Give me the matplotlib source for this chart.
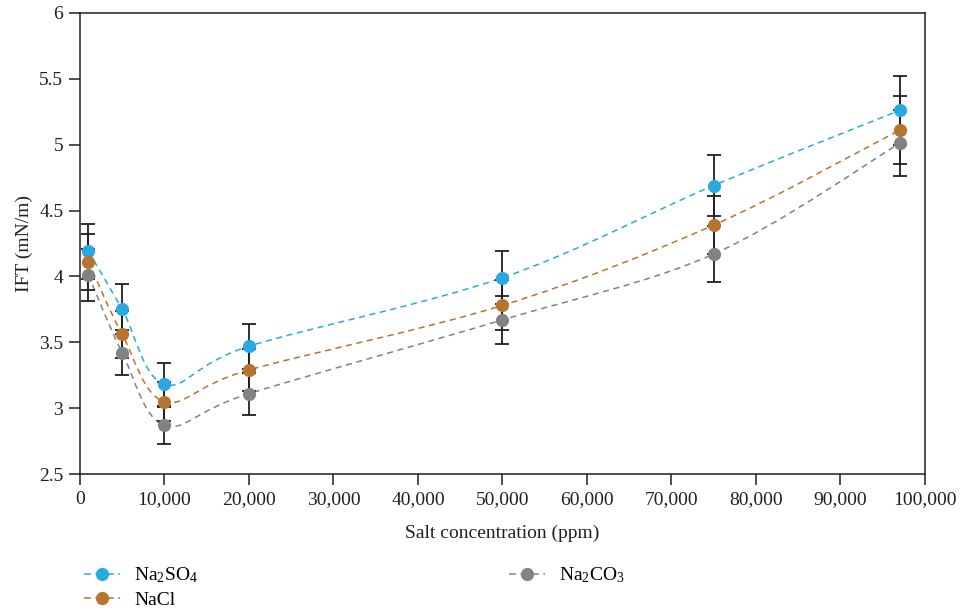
import numpy as np
import matplotlib.pyplot as plt
from matplotlib.path import Path
from matplotlib.patches import PathPatch
from matplotlib.lines import Line2D
from matplotlib.ticker import FuncFormatter

plt.rcParams['font.family'] = ['Liberation Serif', 'DejaVu Serif']
plt.rcParams['mathtext.fontset'] = 'custom'
plt.rcParams['mathtext.rm'] = 'Liberation Serif'
plt.rcParams['mathtext.it'] = 'Liberation Serif:italic'

## Data
conc = [1000, 5000, 10000, 20000, 50000, 75000, 97000]
ift_na2so4 = [4.19, 3.75, 3.18, 3.47, 3.99, 4.69, 5.26]
ift_nacl = [4.11, 3.56, 3.05, 3.29, 3.78, 4.39, 5.11]
ift_na2co3 = [4.01, 3.42, 2.87, 3.11, 3.67, 4.17, 5.01]
err_na2so4 = [0.21, 0.19, 0.16, 0.17, 0.20, 0.23, 0.26]
err_nacl = [0.21, 0.18, 0.15, 0.16, 0.19, 0.22, 0.26]
err_na2co3 = [0.20, 0.17, 0.14, 0.16, 0.18, 0.21, 0.25]

names = [r'Na$_\mathrm{2}$SO$_\mathrm{4}$', 'NaCl', r'Na$_\mathrm{2}$CO$_\mathrm{3}$']
colors = ['#29a9e1', '#b8732f', '#808285']


def smooth_path(x, y):
    ## Excel-style smoothed line: cubic Bezier segments through the points
    x = np.asarray(x, float)
    y = np.asarray(y, float)
    verts = [(x[0], y[0])]
    codes = [Path.MOVETO]
    n = len(x)
    for i in range(n - 1):
        p0 = (x[max(i - 1, 0)], y[max(i - 1, 0)])
        p1 = (x[i], y[i])
        p2 = (x[i + 1], y[i + 1])
        p3 = (x[min(i + 2, n - 1)], y[min(i + 2, n - 1)])
        c1 = (p1[0] + (p2[0] - p0[0]) / 6, p1[1] + (p2[1] - p0[1]) / 6)
        c2 = (p2[0] - (p3[0] - p1[0]) / 6, p2[1] - (p3[1] - p1[1]) / 6)
        verts += [c1, c2, p2]
        codes += [Path.CURVE4] * 3
    return Path(verts, codes)


fig = plt.figure(figsize=(9.6, 6.16), dpi=100)
ax = fig.add_axes([0.0833, 0.2305, 0.8802, 0.7485])

series = [ift_na2so4, ift_nacl, ift_na2co3]
errors = [err_na2so4, err_nacl, err_na2co3]
for ys, es, c in zip(series, errors, colors):
    ax.add_patch(PathPatch(smooth_path(conc, ys), facecolor='none', edgecolor=c,
                           lw=1.1, ls=(0, (4, 3)), zorder=2))
    ax.errorbar(conc, ys, yerr=es, fmt='none', ecolor='#231f20', elinewidth=1.3,
                capsize=5, capthick=1.3, zorder=3)
for ys, c in zip(series, colors):
    ax.plot(conc, ys, 'o', color=c, ms=9.5, mec='none', zorder=4)

ax.set_xlim(0, 100000)
ax.set_ylim(2.5, 6)
ax.set_xticks(np.arange(0, 100001, 10000))
ax.set_yticks(np.arange(2.5, 6.01, 0.5))
ax.xaxis.set_major_formatter(FuncFormatter(lambda v, p: f'{int(v):,}'))
ax.yaxis.set_major_formatter(FuncFormatter(lambda v, p: f'{v:g}'))
ax.tick_params(direction='out', length=8, width=1.1, labelsize=14, color='#231f20',
               labelcolor='#231f20', pad=4)
for s in ax.spines.values():
    s.set_linewidth(1.1)
    s.set_color('#231f20')

ax.set_xlabel('Salt concentration (ppm)', fontsize=14, color='#231f20', labelpad=12)
ax.set_ylabel('IFT (mN/m)', fontsize=14, color='#231f20', labelpad=4)

handles = [Line2D([], [], color=c, ls=(0, (4.5, 3)), lw=1.1, marker='o', ms=9.5, mec='none')
           for c in colors]
fig.legend(handles, names, loc='upper left', bbox_to_anchor=(0.088, 0.082), ncol=2,
           frameon=False, fontsize=14, columnspacing=16.0, handlelength=1.85,
           handletextpad=0.7, labelspacing=0.3, borderaxespad=0, borderpad=0)

fig.savefig('out.png', dpi=100)
